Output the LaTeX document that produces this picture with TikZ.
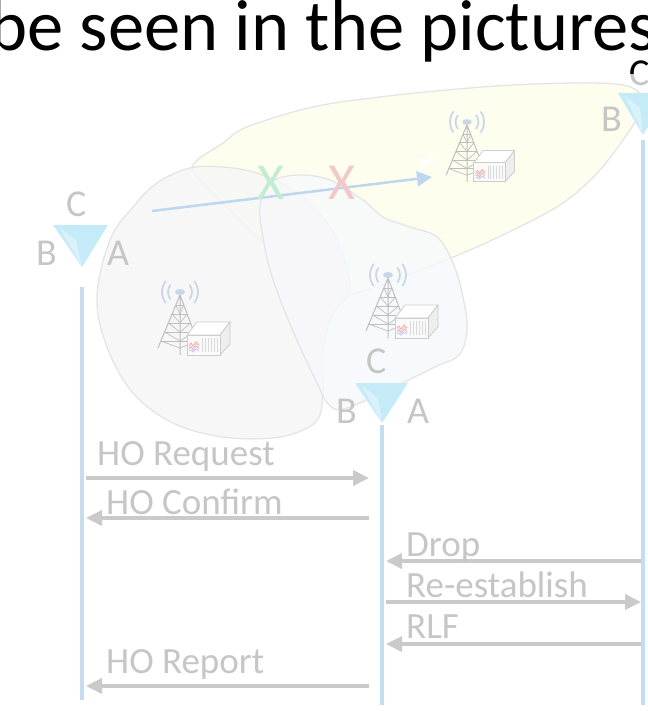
\documentclass[tikz,border=0pt]{standalone}
\usepackage{fontspec}
\setmainfont{Carlito}
\usetikzlibrary{arrows.meta}

\definecolor{lifeblue}{HTML}{C5DDF2}
\definecolor{antcyan}{HTML}{C5EAF8}
\definecolor{msggray}{HTML}{CACACA}
\definecolor{labgray}{HTML}{C6C6C6}
\definecolor{cellgray}{HTML}{F6F6F6}
\definecolor{cellblue}{HTML}{F7F8FC}
\definecolor{cellyellow}{HTML}{FEFEEE}
\definecolor{celledge}{HTML}{E5E5E5}
\definecolor{pathblue}{HTML}{BDD7EE}
\definecolor{xgreen}{HTML}{C3EDD3}
\definecolor{xred}{HTML}{F2C9C9}
\definecolor{wavebl}{HTML}{C9D6EA}
\definecolor{towergray}{HTML}{BEBEBE}
\definecolor{boxedge}{HTML}{CDCDCD}

\tikzset{
  lifeline/.style={lifeblue, line width=4pt},
  msg/.style={msggray, line width=3.5pt, -{Triangle[length=16pt,width=15pt]}},
  msglabel/.style={anchor=base west, inner sep=0, text=labgray, font=\fontsize{37}{42}\selectfont},
  portlabel/.style={anchor=base west, inner sep=0, text=labgray, font=\fontsize{38}{44}\selectfont},
  cell/.style={draw=celledge, line width=1.3pt},
  xmark/.style={inner sep=0, font=\fontsize{52}{60}\selectfont},
  antenna/.style={fill=antcyan},
  bts/.pic={
    % radio waves
    \foreach \r in {12,18}{
      \draw[wavebl, line width=1.7pt] (-38:\r) arc[start angle=-38, end angle=38, radius=\r];
      \draw[wavebl, line width=1.7pt] (142:\r) arc[start angle=142, end angle=218, radius=\r];
    }
    \fill[wavebl] (0,0) ellipse[x radius=5, y radius=3];
    % lattice mast
    \draw[towergray, line width=1pt] (0,3) -- (-22,56) (0,3) -- (20,56) (0,3) -- (0,63);
    \foreach \h in {13,22,31,40,49}{
      \draw[towergray, line width=0.8pt] ({-22*(\h-3)/53},\h) -- ({20*(\h-3)/53},\h);
    }
    \foreach \a/\b in {13/22,22/31,31/40,40/49,49/56}{
      \draw[towergray, line width=0.7pt] ({-22*(\a-3)/53},\a) -- (0,\b) -- ({20*(\a-3)/53},\a);
    }
    % equipment cabinet
    \filldraw[fill=white, draw=boxedge, line width=0.8pt] (7,43) -- (17,30) -- (50,30) -- (40,43) -- cycle;
    \filldraw[fill=gray!13, draw=boxedge, line width=0.8pt] (40,43) -- (50,30) -- (50,52) -- (40,63) -- cycle;
    \filldraw[fill=gray!4, draw=boxedge, line width=0.8pt] (7,43) rectangle (40,63);
    \foreach \x in {22,25,28,31,34,37}{
      \draw[gray!30, line width=0.6pt] (\x,46) -- (\x,60);
    }
    \draw[red!35, line width=0.8pt] (9,53) -- (11,51) -- (13,54) -- (16,50) -- (19,53);
    \draw[orange!35, line width=0.8pt] (9,55) -- (11,53) -- (13,56) -- (16,52) -- (19,55);
    \draw[blue!25, line width=0.8pt] (9,57) -- (11,55) -- (13,58) -- (16,54) -- (19,57);
    \draw[violet!25, line width=0.8pt] (9,59) -- (11,58) -- (13,60) -- (16,57) -- (19,59);
  }
}

\begin{document}
\begin{tikzpicture}[x=1pt, y=-1pt]
\useasboundingbox (0,0) rectangle (647,711);
\fill[white] (0,0) rectangle (647,711);

% heading line
\node[anchor=base west, inner sep=0, font=\fontsize{72.5}{87}\selectfont] (title) at (-11,51) {be seen in the pictures};

% coverage areas
\filldraw[cell, fill=cellyellow] plot[smooth cycle, tension=0.6] coordinates {
  (193,165) (223,143) (247,127) (313,107) (380,97) (447,90) (513,85) (580,83)
  (623,85) (641,95) (640,112) (623,140) (597,173) (563,203) (513,230) (463,253)
  (413,273) (367,290) (335,294) (300,272) (257,237) (230,210) (203,183)};
\filldraw[cell, fill=cellgray, fill opacity=0.85] plot[smooth cycle, tension=0.6] coordinates {
  (97,297) (110,240) (133,207) (157,183) (190,168) (223,167) (257,173) (290,188)
  (317,210) (337,240) (348,273) (349,294) (337,308) (327,330) (323,357) (323,390)
  (319,417) (303,430) (273,438) (223,437) (173,423) (133,393) (107,347)};
\filldraw[cell, fill=cellblue, fill opacity=0.8] plot[smooth cycle, tension=0.6] coordinates {
  (260,207) (270,183) (297,175) (330,180) (363,200) (383,217) (410,227) (437,237)
  (453,263) (463,297) (467,330) (459,355) (437,366) (400,384) (347,408) (329,405)
  (317,383) (300,347) (283,307) (270,270) (263,237)};

% base stations
\pic at (180,292) {bts};
\pic at (388,275) {bts};
\pic[scale=0.95] at (467,122) {bts};

% user movement
\coordinate (ustart) at (152,211);
\coordinate (uend) at (432,177);
\draw[pathblue, line width=2.5pt, -{Triangle[length=15pt,width=15pt]}] (ustart) -- (uend);
\draw[white, line width=2.5pt] (415,160) -- (438,162) (420,170) -- (433,152);
\node[xmark, text=xgreen] (xg) at (271,183) {X};
\node[xmark, text=xred] (xr) at (342,183) {X};

% antennas
\coordinate (a1) at (82,267);
\coordinate (a2) at (382,423);
\coordinate (a3) at (643,135);
\fill[antenna] (53,225) -- (108,225) -- (a1) -- cycle;
\fill[white, opacity=0.35] (60,228) -- (76,240) -- (a1) -- cycle;
\fill[antenna] (355,383) -- (408,383) -- (a2) -- cycle;
\fill[white, opacity=0.35] (362,386) -- (378,398) -- (a2) -- cycle;
\fill[antenna] (618,93) -- (668,93) -- (a3) -- cycle;
\fill[white, opacity=0.35] (625,96) -- (640,108) -- (a3) -- cycle;

\node[portlabel] (c1) at (66,217) {C};
\node[portlabel] (b1) at (36,265) {B};
\node[portlabel] (d1) at (107,265) {A};
\node[portlabel] (c2) at (366,373) {C};
\node[portlabel] (b2) at (336,423) {B};
\node[portlabel] (d2) at (407,423) {A};
\node[portlabel] (b3) at (601,132) {B};
\node[portlabel] (c3) at (629,86) {C};
\begin{scope}
  \clip (600,0) rectangle (647,74);
  \node[portlabel, text=black] (c3k) at (629,86) {C};
\end{scope}

% lifelines
\coordinate (l1t) at (82,287);  \coordinate (l1b) at (82,700);
\coordinate (l2t) at (382,425); \coordinate (l2b) at (382,705);
\coordinate (l3t) at (643,140); \coordinate (l3b) at (643,705);
\draw[lifeline] (l1t) -- (l1b);
\draw[lifeline] (l2t) -- (l2b);
\draw[lifeline] (l3t) -- (l3b);

% messages
\coordinate (m1a) at (86,478);  \coordinate (m1b) at (369,478);
\coordinate (m2a) at (369,518); \coordinate (m2b) at (86,518);
\coordinate (m3a) at (641,561); \coordinate (m3b) at (386,561);
\coordinate (m4a) at (386,602); \coordinate (m4b) at (641,602);
\coordinate (m5a) at (641,644); \coordinate (m5b) at (386,644);
\coordinate (m6a) at (369,686); \coordinate (m6b) at (86,686);
\draw[msg] (m1a) -- (m1b);
\draw[msg] (m2a) -- (m2b);
\draw[msg] (m3a) -- (m3b);
\draw[msg] (m4a) -- (m4b);
\draw[msg] (m5a) -- (m5b);
\draw[msg] (m6a) -- (m6b);

\node[msglabel] (t1) at (97,465) {HO Request};
\node[msglabel] (t2) at (106,514) {HO Confirm};
\node[msglabel] (t3) at (406,556) {Drop};
\node[msglabel] (t4) at (406,597) {Re-establish};
\node[msglabel] (t5) at (406,638) {RLF};
\node[msglabel] (t6) at (106,673) {HO Report};
\end{tikzpicture}
\end{document}
